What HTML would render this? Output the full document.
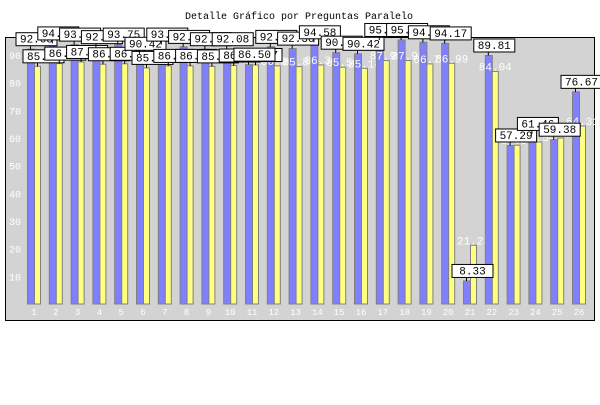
<!DOCTYPE html>
<html><head><meta charset="utf-8"><style>
body{margin:0;background:#fff;width:600px;height:400px;overflow:hidden}
svg text{font-family:"Liberation Mono",monospace}
</style></head><body>
<svg id="chart" width="600" height="400" xmlns="http://www.w3.org/2000/svg">
<rect x="0" y="0" width="600" height="400" fill="#fff"/>
<text x="299" y="19" font-size="10" text-anchor="middle" fill="#000">Detalle Gráfico por Preguntas Paralelo</text>
<rect x="5.5" y="37.5" width="589" height="283" fill="#d3d3d3" stroke="#000" stroke-width="1"/>
<g id="bars"></g>
</svg>
<script>
const categories=["1","2","3","4","5","6","7","8","9","10","11","12","13","14","15","16","17","18","19","20","21","22","23","24","25","26"];
const seriesA=[92.08,94.17,93.75,92.83,93.75,90.42,93.75,92.92,92.08,92.08,86.5,92.92,92.30,94.58,90.83,90.42,95.42,95.42,94.58,94.17,8.33,89.81,57.29,61.46,59.38,76.67];
const seriesB=[85.9,86.88,87.47,86.65,86.81,85.33,86.05,86.05,85.87,86.19,86.37,86.06,85.8,86.38,85.58,85.18,87.99,87.99,86.77,86.99,21.23,84.04,57.38,58.54,59.97,64.31];
const yTicks=[10,20,30,40,50,60,70,80,90];
const NS="http://www.w3.org/2000/svg";
const g=document.getElementById('bars');
const base=304,k=2.767,x0=27,step=21.8,bw=7;
const y=v=>base-v*k;
const x=i=>x0+i*step;
function mk(t,a){const e=document.createElementNS(NS,t);for(const n in a)e.setAttribute(n,a[n]);g.appendChild(e);return e;}
yTicks.forEach(t=>{
  const e=mk('text',{x:9,y:y(t)+4,'font-size':10,fill:'#fff'});e.textContent=t;
  
  
});
const boxes=[];
categories.forEach((c,i)=>{
  const a=mk('rect',{x:x(i)+0.5,y:y(seriesA[i]),width:bw,height:seriesA[i]*k,fill:'#8080ff',stroke:'#808080','stroke-width':1});
  
  
  const b=mk('rect',{x:x(i)+bw+0.5,y:y(seriesB[i]),width:bw-1,height:seriesB[i]*k,fill:'#ffff80',stroke:'#808080','stroke-width':1});
  
  
  const l=mk('text',{x:x(i)+bw,y:315,'font-size':9,fill:'#fff','text-anchor':'middle'});l.textContent=c;
  
  
  if(i>=11){
    const t=mk('text',{x:x(i)+bw*1.5,y:y(seriesB[i])-1,'font-size':11,fill:'#fff','text-anchor':'middle'});t.textContent=seriesB[i].toFixed(2);
    
    
  } else boxes.push([x(i)+bw*1.5,y(seriesB[i]),seriesB[i]]);
  boxes.push([x(i)+bw*0.5,y(seriesA[i]),seriesA[i]]);
});
boxes.forEach(([cx,ty,v])=>{
  mk('line',{x1:cx,y1:ty,x2:cx,y2:ty-4,stroke:'#000'});
  const r=mk('rect',{x:cx-14.5,y:ty-16.5,width:41,height:13,fill:'#fff',stroke:'#000','stroke-width':1});
  
  
  const t=mk('text',{x:cx+6,y:ty-6.5,'font-size':11,fill:'#000','text-anchor':'middle'});t.textContent=v.toFixed(2);
  
  
});
</script>
</body></html>
